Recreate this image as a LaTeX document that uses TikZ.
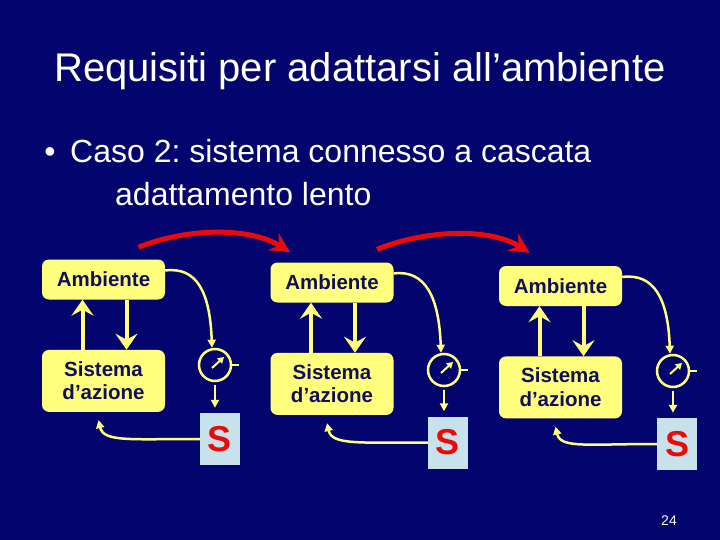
\documentclass[tikz,border=0pt]{standalone}
\usepackage{fontspec}
\setmainfont{Liberation Sans}
\frenchspacing
\definecolor{SlideBlue}{RGB}{4, 4, 110}
\definecolor{PaleYellow}{RGB}{255, 255, 125}
\definecolor{InkBlue}{RGB}{16, 16, 90}
\definecolor{IceBlue}{RGB}{200, 226, 236}
\definecolor{SignalRed}{RGB}{235, 10, 10}
\usepackage{tikz}
\usetikzlibrary{arrows.meta, positioning}

\begin{document}
\begin{tikzpicture}[
        x=1pt, y=-1pt,
        slidetext/.style={text=white, inner sep=0pt},
        envbox/.style={rectangle, fill=PaleYellow, rounded corners=7pt, minimum width=123pt, minimum height=40pt, text=InkBlue, align=center, font=\fontsize{20.5}{23.5}\selectfont\bfseries},
        actbox/.style={envbox, minimum height=62pt},
        sbox/.style={rectangle, fill=IceBlue, minimum width=40pt, minimum height=52pt, text=SignalRed, font=\fontsize{36}{36}\selectfont\bfseries},
        meter/.style={circle, draw=PaleYellow, line width=2.5pt, minimum size=32pt, inner sep=0pt},
        needle/.style={draw=PaleYellow, line width=2pt, -{Triangle[length=6pt, width=7pt]}},
        tick/.style={draw=PaleYellow, line width=2pt},
        link/.style={draw=PaleYellow, line width=4pt, -{Stealth[length=16pt, width=22pt, inset=6pt]}},
        feed/.style={draw=PaleYellow, line width=2.5pt, -{Triangle[length=8pt, width=8pt]}},
        cascade/.style={draw=SignalRed, line width=5pt, -{Stealth[length=20pt, width=20pt, inset=7pt]}}
    ]
        \fill[SlideBlue] (0,0) rectangle (720,540);

        \node[slidetext, anchor=base, font=\fontsize{40}{44}\selectfont] (title) at (360,82) {Requisiti per adattarsi all’ambiente};
        \node[slidetext, anchor=base west, font=\fontsize{32}{38}\selectfont] (caso) at (70,163) {Caso 2: sistema connesso a cascata};
        \node[slidetext, anchor=base, font=\fontsize{32}{38}\selectfont] (dot) at (50,163) {•};
        \node[slidetext, anchor=base west, font=\fontsize{32}{38}\selectfont] (lento) at (115,206) {adattamento lento};

        % first stage
        \node[envbox] (amb1) at (103.5,279.5) {Ambiente};
        \node[actbox, below=50pt of amb1] (sys1) {Sistema\\d’azione};
        \node[meter] (m1) at (215,365) {};
        \node[sbox] (s1) at (220,439) {S};

        % second stage
        \node[envbox] (amb2) at (332,282.5) {Ambiente};
        \node[actbox, below=50pt of amb2] (sys2) {Sistema\\d’azione};
        \node[meter] (m2) at (444,370) {};
        \node[sbox] (s2) at (448,442.5) {S};

        % third stage
        \node[envbox] (amb3) at (560.5,286) {Ambiente};
        \node[actbox, below=50pt of amb3] (sys3) {Sistema\\d’azione};
        \node[meter] (m3) at (673,371) {};
        \node[sbox] (s3) at (677,444) {S};

        \path[link] ([xshift=-21pt]sys1.north) -- ([xshift=-21pt]amb1.south);
        \path[link] ([xshift=23pt]amb1.south) -- ([xshift=23pt]sys1.north);
        \path[link] ([xshift=-21pt]sys2.north) -- ([xshift=-21pt]amb2.south);
        \path[link] ([xshift=23pt]amb2.south) -- ([xshift=23pt]sys2.north);
        \path[link] ([xshift=-21pt]sys3.north) -- ([xshift=-21pt]amb3.south);
        \path[link] ([xshift=23pt]amb3.south) -- ([xshift=23pt]sys3.north);

        \path[feed] ([yshift=9pt]amb1.east) .. controls +(32pt,4pt) and +(-2pt,55pt) .. ([xshift=-3pt]m1.north);
        \path[feed] ([yshift=9pt]amb2.east) .. controls +(32pt,4pt) and +(-2pt,55pt) .. ([xshift=-3pt]m2.north);
        \path[feed] ([yshift=9pt]amb3.east) .. controls +(32pt,4pt) and +(-2pt,55pt) .. ([xshift=-3pt]m3.north);

        \path[feed, shorten <=3pt, shorten >=5pt] (m1.south) -- (m1.south |- s1.north);
        \path[feed, shorten <=3pt, shorten >=5pt] (m2.south) -- (m2.south |- s2.north);
        \path[feed, shorten <=3pt, shorten >=5pt] (m3.south) -- (m3.south |- s3.north);

        \path[feed] (s1.west) .. controls +(-70pt,0pt) and +(5pt,-22pt) .. ([xshift=-5pt,yshift=-8pt]sys1.south);
        \path[feed] (s2.west) .. controls +(-70pt,0pt) and +(5pt,-22pt) .. ([xshift=-5pt,yshift=-8pt]sys2.south);
        \path[feed] (s3.west) .. controls +(-70pt,0pt) and +(5pt,-22pt) .. ([xshift=-5pt,yshift=-8pt]sys3.south);

        \path[needle] ([shift={(-3pt,-3pt)}]m1.center) -- ([shift={(9pt,8pt)}]m1.center);
        \path[needle] ([shift={(-3pt,-3pt)}]m2.center) -- ([shift={(9pt,8pt)}]m2.center);
        \path[needle] ([shift={(-3pt,-3pt)}]m3.center) -- ([shift={(9pt,8pt)}]m3.center);
        \path[tick] (m1.east) -- ++(7pt,0pt);
        \path[tick] (m2.east) -- ++(7pt,0pt);
        \path[tick] (m3.east) -- ++(7pt,0pt);

        \path[cascade] ([xshift=35pt,yshift=12pt]amb1.north) .. controls +(50pt,20pt) and +(-40pt,25pt) .. ([xshift=20pt,yshift=10pt]amb2.north west);
        \path[cascade] ([xshift=45pt,yshift=13pt]amb2.north) .. controls +(50pt,20pt) and +(-40pt,25pt) .. ([xshift=31pt,yshift=13pt]amb3.north west);

        \node[slidetext, font=\fontsize{14}{16}\selectfont] (page) at (669,521) {24};
\end{tikzpicture}
\end{document}
